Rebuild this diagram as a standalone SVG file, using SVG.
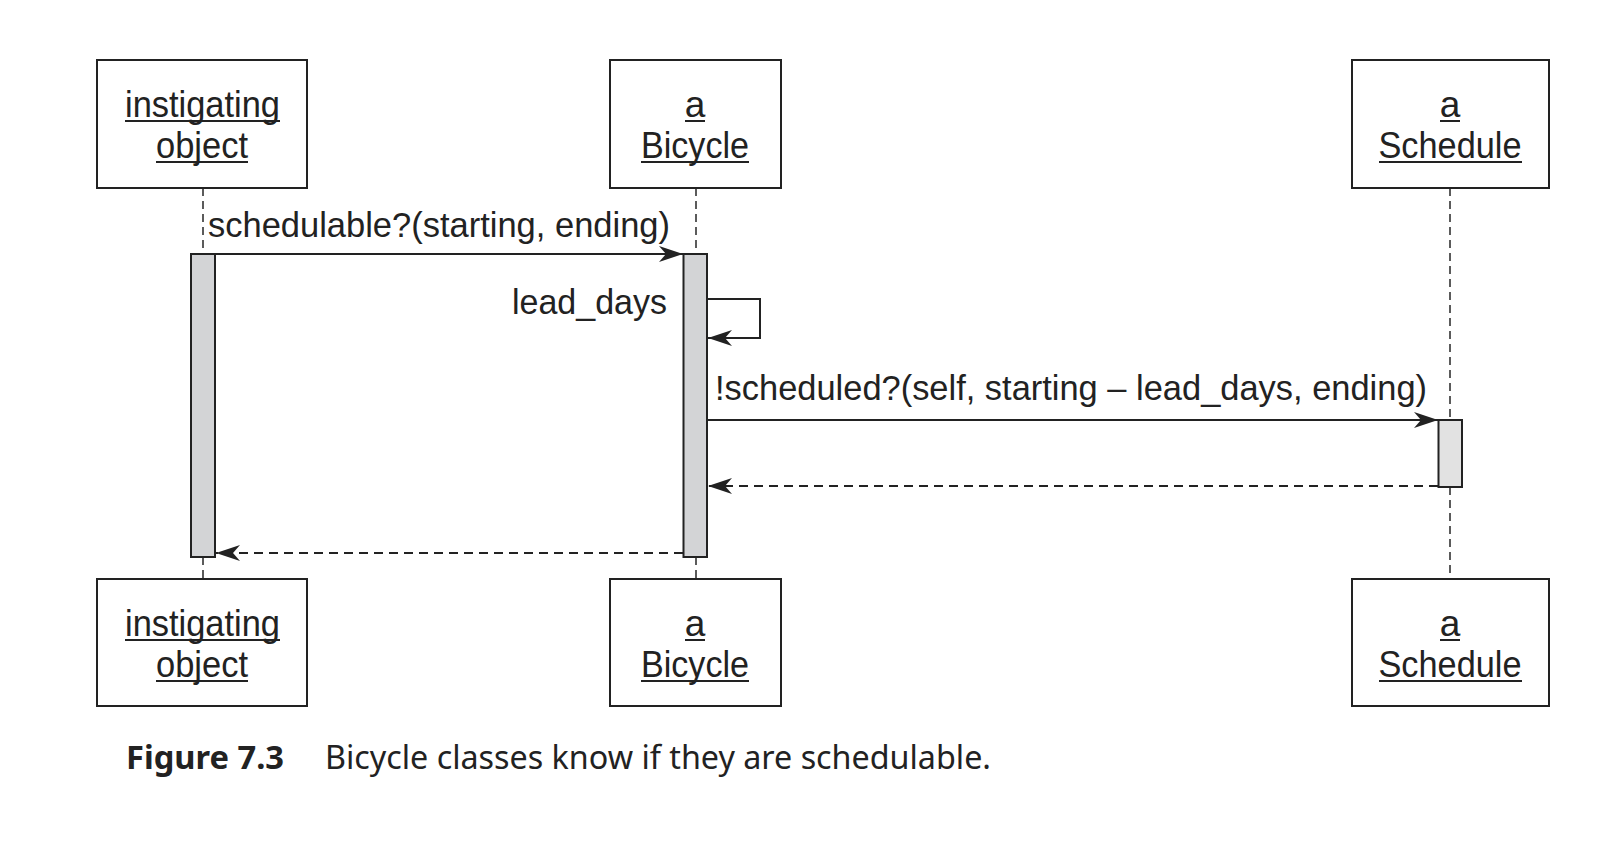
<svg xmlns="http://www.w3.org/2000/svg" width="1602" height="864" viewBox="0 0 1602 864">
<style>
.box{fill:#fff;stroke:#222;stroke-width:2}
.lbl{font-family:"Liberation Sans",Arial,sans-serif;font-size:37px;fill:#222;text-anchor:middle}
.ul{stroke:#222;stroke-width:2}
.msg{font-family:"Liberation Sans",Arial,sans-serif;font-size:35px;fill:#222}
.life{stroke:#333;stroke-width:1.6;stroke-dasharray:8 5;fill:none}
.bar{fill:#d3d4d6;stroke:#222;stroke-width:2}
.bar2{fill:#e2e2e2;stroke:#222;stroke-width:2}
.call{stroke:#222;stroke-width:2;fill:none;marker-end:url(#ah)}
.ret{stroke:#222;stroke-width:2;fill:none;stroke-dasharray:9 6;marker-end:url(#ah)}
.cap{font-family:"Noto Sans","Open Sans",sans-serif;font-size:33px;fill:#222}
</style>
<defs>
<marker id="ah" viewBox="0 0 24 16" refX="24" refY="8" markerWidth="24" markerHeight="16" orient="auto" markerUnits="userSpaceOnUse">
<path d="M0,0 L24,8 L0,16 L7,8 Z" fill="#222"/>
</marker>
</defs>

<g id="lifelines">
<line class="life" x1="203" y1="188" x2="203" y2="254"/>
<line class="life" x1="203" y1="557" x2="203" y2="579"/>
<line class="life" x1="696" y1="188" x2="696" y2="254"/>
<line class="life" x1="696" y1="557" x2="696" y2="579"/>
<line class="life" x1="1450" y1="188" x2="1450" y2="420"/>
<line class="life" x1="1450" y1="487" x2="1450" y2="579"/>
</g>

<g id="instigating-top">
<rect class="box" x="97" y="60" width="210" height="128"/>
<text class="lbl" x="202.5" y="117" textLength="155" lengthAdjust="spacingAndGlyphs">instigating</text>
<line class="ul" x1="125" y1="121" x2="280" y2="121"/>
<text class="lbl" x="202" y="158" textLength="92" lengthAdjust="spacingAndGlyphs">object</text>
<line class="ul" x1="156" y1="162" x2="248" y2="162"/>
</g>
<g id="bicycle-top">
<rect class="box" x="610" y="60" width="171" height="128"/>
<text class="lbl" x="695" y="117">a</text>
<line class="ul" x1="685" y1="121" x2="705" y2="121"/>
<text class="lbl" x="695" y="158" textLength="108" lengthAdjust="spacingAndGlyphs">Bicycle</text>
<line class="ul" x1="641" y1="162" x2="749" y2="162"/>
</g>
<g id="schedule-top">
<rect class="box" x="1352" y="60" width="197" height="128"/>
<text class="lbl" x="1450" y="117">a</text>
<line class="ul" x1="1440" y1="121" x2="1460" y2="121"/>
<text class="lbl" x="1450" y="158" textLength="143" lengthAdjust="spacingAndGlyphs">Schedule</text>
<line class="ul" x1="1379" y1="162" x2="1522" y2="162"/>
</g>

<g id="instigating-bottom">
<rect class="box" x="97" y="579" width="210" height="127"/>
<text class="lbl" x="202.5" y="636" textLength="155" lengthAdjust="spacingAndGlyphs">instigating</text>
<line class="ul" x1="125" y1="640" x2="280" y2="640"/>
<text class="lbl" x="202" y="677" textLength="92" lengthAdjust="spacingAndGlyphs">object</text>
<line class="ul" x1="156" y1="681" x2="248" y2="681"/>
</g>
<g id="bicycle-bottom">
<rect class="box" x="610" y="579" width="171" height="127"/>
<text class="lbl" x="695" y="636">a</text>
<line class="ul" x1="685" y1="640" x2="705" y2="640"/>
<text class="lbl" x="695" y="677" textLength="108" lengthAdjust="spacingAndGlyphs">Bicycle</text>
<line class="ul" x1="641" y1="681" x2="749" y2="681"/>
</g>
<g id="schedule-bottom">
<rect class="box" x="1352" y="579" width="197" height="127"/>
<text class="lbl" x="1450" y="636">a</text>
<line class="ul" x1="1440" y1="640" x2="1460" y2="640"/>
<text class="lbl" x="1450" y="677" textLength="143" lengthAdjust="spacingAndGlyphs">Schedule</text>
<line class="ul" x1="1379" y1="681" x2="1522" y2="681"/>
</g>

<g id="activations">
<rect id="act-instigating" class="bar" x="191" y="254" width="24" height="303"/>
<rect id="act-bicycle" class="bar" x="683.5" y="254" width="23.5" height="303"/>
<rect id="act-schedule" class="bar2" x="1438.5" y="420" width="23.5" height="67"/>
</g>

<g id="connectors">
<line class="call" x1="215" y1="254" x2="683" y2="254"/>
<polyline class="call" points="707,299 760,299 760,338 708,338"/>
<line class="call" x1="707" y1="420" x2="1438" y2="420"/>
<line class="ret" x1="1438" y1="486" x2="708" y2="486"/>
<line class="ret" x1="683" y1="553" x2="216" y2="553"/>
</g>

<g id="labels">
<text class="msg" x="208" y="237" textLength="462" lengthAdjust="spacingAndGlyphs">schedulable?(starting, ending)</text>
<text class="msg" x="512" y="314" textLength="155" lengthAdjust="spacingAndGlyphs">lead_days</text>
<text class="msg" x="715" y="400" textLength="712" lengthAdjust="spacingAndGlyphs">!scheduled?(self, starting – lead_days, ending)</text>
</g>

<g id="caption">
<text class="cap" x="126" y="769" font-weight="bold" textLength="158" lengthAdjust="spacingAndGlyphs">Figure 7.3</text>
<text class="cap" x="325" y="769" textLength="666" lengthAdjust="spacingAndGlyphs">Bicycle classes know if they are schedulable.</text>
</g>
</svg>
